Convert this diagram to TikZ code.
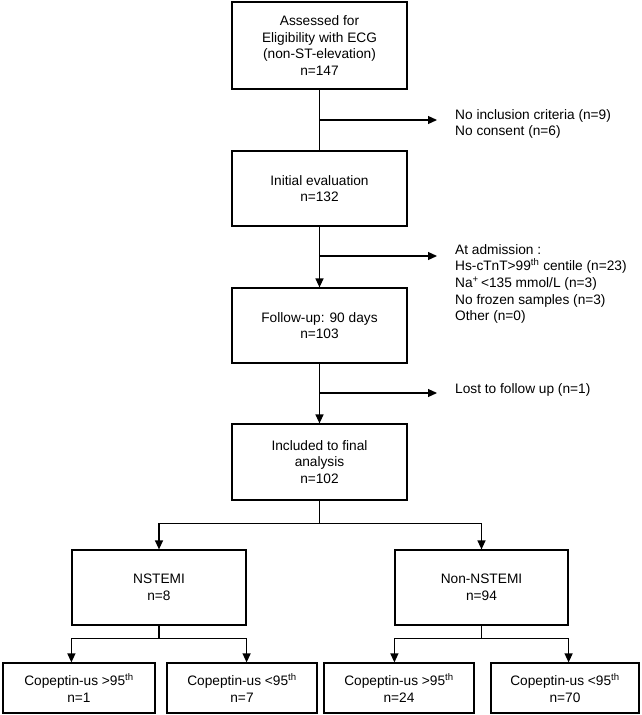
\documentclass[tikz,border=0pt]{standalone}
\usepackage{fontspec}
\setmainfont{Liberation Sans}
\usetikzlibrary{arrows.meta}

\begin{document}
\begin{tikzpicture}[x=1pt,y=-1pt,
    box/.style={draw,line width=1.2pt,align=center,inner sep=0pt,font=\fontsize{13.7}{16.7}\selectfont},
    side/.style={anchor=west,align=left,inner sep=0pt,font=\fontsize{13.7}{16.7}\selectfont},
    arr/.style={-{Triangle[length=9pt,width=8pt]},line width=1.2pt}]
\useasboundingbox (0,0) rectangle (641,715);

\node[box,minimum width=175pt,minimum height=87pt] (assessed) at (319.5,45.5) {Assessed for\\Eligibility with ECG\\(non-ST-elevation)\\n=147};
\node[box,minimum width=175pt,minimum height=75pt] (initial) at (319.5,188.5) {Initial evaluation\\n=132};
\node[box,minimum width=175pt,minimum height=75pt] (followup) at (319.5,325.5) {Follow-up: 90 days\\n=103};
\node[box,minimum width=175pt,minimum height=76pt] (included) at (319.5,462) {Included to final\\analysis\\n=102};

\node[box,minimum width=174pt,minimum height=75pt] (nstemi) at (159,587.5) {NSTEMI\\n=8};
\node[box,minimum width=173pt,minimum height=75pt] (non) at (481.5,587.5) {Non-NSTEMI\\n=94};

\node[box,minimum width=152pt,minimum height=50pt] (c1) at (79,688) {Copeptin-us >95\textsuperscript{th}\\n=1};
\node[box,minimum width=150pt,minimum height=50pt] (c2) at (242,688) {Copeptin-us <95\textsuperscript{th}\\n=7};
\node[box,minimum width=150pt,minimum height=50pt] (c3) at (399,688) {Copeptin-us >95\textsuperscript{th}\\n=24};
\node[box,minimum width=148pt,minimum height=50pt] (c4) at (565,688) {Copeptin-us <95\textsuperscript{th}\\n=70};

\node[side] (excl1) at (455,124) {No inclusion criteria (n=9)\\No consent (n=6)};
\node[side] (excl2) at (455,284) {At admission :\\Hs-cTnT>99\textsuperscript{th} centile (n=23)\\Na\textsuperscript{+}\,<135 mmol/L (n=3)\\No frozen samples (n=3)\\Other (n=0)};
\node[side] (excl3) at (455,390) {Lost to follow up (n=1)};

\coordinate (e1) at (437,120);
\coordinate (e2) at (437,256);
\coordinate (e3) at (437,393);

\draw[line width=1.2pt] (assessed) -- (initial);
\draw[arr] (initial) -- (followup);
\draw[arr] (followup) -- (included);

\draw[arr] (assessed.south |- e1) -- (e1);
\draw[arr] (initial.south |- e2) -- (e2);
\draw[arr] (followup.south |- e3) -- (e3);

\draw[line width=1.2pt] (included.south) -- ++(0,23) coordinate (s1);
\draw[arr] (s1) -| (nstemi.north);
\draw[arr] (s1) -| (non.north);

\draw[line width=1.2pt] (nstemi.south) -- ++(0,13) coordinate (s2);
\draw[arr] (s2) -| (c1.north -| nstemi.west);
\draw[arr] (s2) -| (c2.north -| nstemi.east);

\draw[line width=1.2pt] (non.south) -- ++(0,13) coordinate (s3);
\draw[arr] (s3) -| (c3.north -| non.west);
\draw[arr] (s3) -| (c4.north -| non.east);
\end{tikzpicture}
\end{document}
